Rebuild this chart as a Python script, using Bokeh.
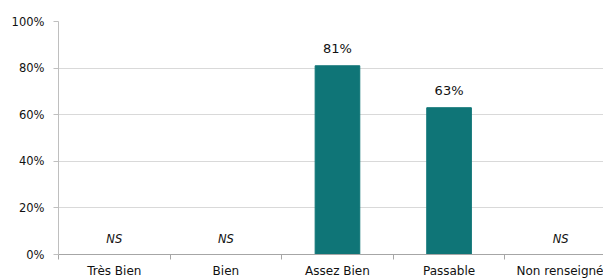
from bokeh.plotting import figure
from bokeh.models import Range1d, FixedTicker, ColumnDataSource
from bokeh.core.properties import value
from bokeh.embed import file_html
from bokeh.resources import INLINE

categories = ["Très Bien", "Bien", "Assez Bien", "Passable", "Non renseigné"]
shares = [None, None, 0.81, 0.63, None]
share_labels = ["NS", "NS", "81%", "63%", "NS"]
y_ticks = [0.0, 0.2, 0.4, 0.6, 0.8, 1.0]
y_tick_labels = ["0%", "20%", "40%", "60%", "80%", "100%"]

FONT = "DejaVu Sans"
TEAL = "#0F7577"

centers = [i + 0.5 for i in range(len(categories))]
bounds = [float(i) for i in range(len(categories) + 1)]

p = figure(width=603, height=280, output_backend="svg", toolbar_location=None,
           x_range=Range1d(0, 4.884), y_range=Range1d(0, 1),
           min_border_left=58, min_border_right=0, min_border_top=21,
           min_border_bottom=26)
p.outline_line_color = None
p.background_fill_color = "white"

bx = [c for c, v in zip(centers, shares) if v is not None]
bt = [v for v in shares if v is not None]
bl = [l for l, v in zip(share_labels, shares) if v is not None]
bars = ColumnDataSource(dict(x=bx, top=bt, label=bl))
p.vbar(x="x", top="top", width=0.4, bottom=0, source=bars,
       fill_color=TEAL, line_color=TEAL)
p.text(x="x", y="top", text="label", source=bars,
       text_font=value(FONT), text_font_size="13px", text_color="#111111",
       text_align="center", text_baseline="middle", y_offset=-17)

nx = [c for c, v in zip(centers, shares) if v is None]
nl = [l for l, v in zip(share_labels, shares) if v is None]
ns = ColumnDataSource(dict(x=nx, y=[0.068] * len(nx), label=nl))
p.text(x="x", y="y", text="label", source=ns,
       text_font=value(FONT), text_font_size="11.5px", text_font_style="italic",
       text_color="#111111", text_align="center", text_baseline="middle")

# x axis: labels at category centres, ticks at category boundaries
xa = p.xaxis[0]
xa.ticker = FixedTicker(ticks=centers, minor_ticks=bounds)
xa.major_label_overrides = {c: lab for c, lab in zip(centers, categories)}
xa.major_tick_line_color = None
xa.major_tick_out = 0
xa.major_tick_in = 0
xa.minor_tick_in = 0
xa.minor_tick_out = 5
xa.minor_tick_line_color = "#a6a6a6"
xa.axis_line_color = "#a6a6a6"
xa.major_label_text_font = FONT
xa.major_label_text_font_size = "12px"
xa.major_label_text_color = "#111111"
xa.major_label_standoff = 4

# y axis
ya = p.yaxis[0]
ya.ticker = FixedTicker(ticks=y_ticks)
ya.major_label_overrides = {t: lab for t, lab in zip(y_ticks, y_tick_labels)}
ya.major_tick_in = 0
ya.major_tick_out = 5
ya.minor_tick_line_color = None
ya.major_tick_line_color = "#bfbfbf"
ya.axis_line_color = "#bfbfbf"
ya.major_label_text_font = FONT
ya.major_label_text_font_size = "11.5px"
ya.major_label_text_color = "#111111"
ya.major_label_standoff = 9

p.xgrid.visible = False
p.ygrid.ticker = FixedTicker(ticks=y_ticks)
p.ygrid.grid_line_color = "#d9d9d9"

open("out.html", "w").write(file_html(p, INLINE))
